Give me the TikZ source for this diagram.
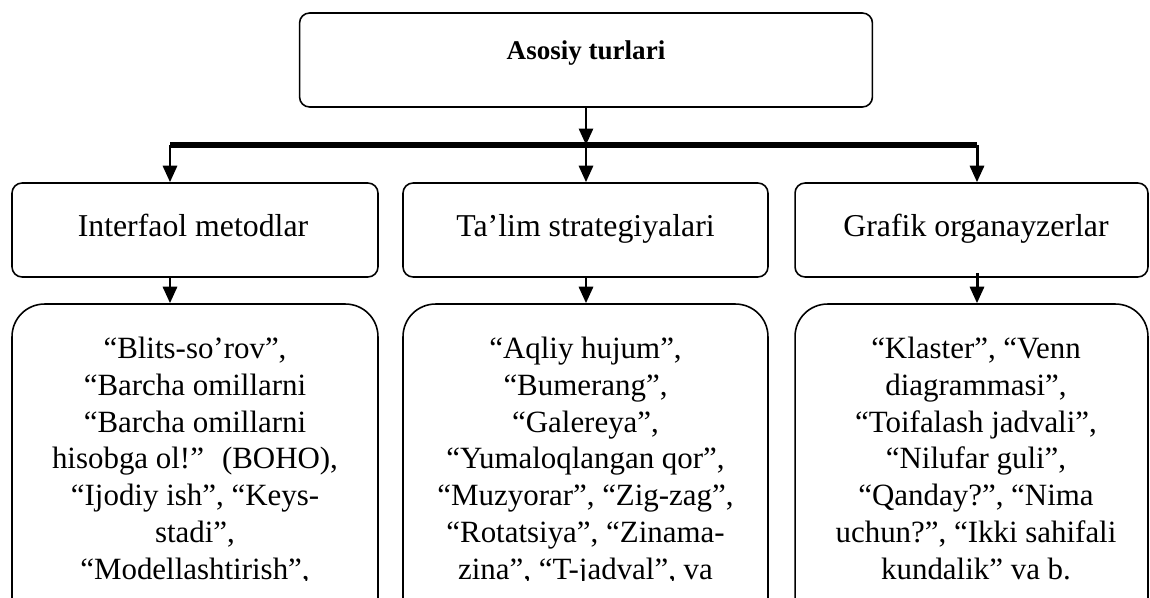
\documentclass[tikz,border=0pt]{standalone}
\usepackage{fontspec}
\setmainfont{Liberation Serif}
\usetikzlibrary{arrows.meta}

\tikzset{
    box/.style={draw, line width=0.9pt, rounded corners=0.2cm, inner sep=0pt, minimum height=1.88cm},
    listbox/.style={draw, line width=0.9pt, rounded corners=0.65cm, inner sep=0pt, minimum height=7.2cm},
    arr/.style={line width=1.7pt, -{Triangle[length=0.33cm,width=0.28cm]}},
    bar/.style={line width=3pt},
    head/.style={font=\fontsize{15.4}{18}\selectfont\bfseries, anchor=base, inner sep=0pt},
    kind/.style={font=\fontsize{18.1}{21}\selectfont, anchor=base, inner sep=0pt},
    txt/.style={font=\fontsize{17.6}{20.9}\selectfont, align=center, inner sep=0pt},
}

\begin{document}
\begin{tikzpicture}[x=0.02cm, y=-0.02cm]
    \useasboundingbox (0,0) rectangle (1150,598);
    \clip (0,0) rectangle (1150,598);

    \coordinate (barL) at (170,145);
    \coordinate (barM) at (586,145);
    \coordinate (barR) at (977,145);

    \node[box, minimum width=11.46cm] (top) at (586,60) {};
    \node[head] (toptxt) at (586,60) {Asosiy turlari};

    \node[box, minimum width=7.32cm] (im) at (195,230) {};
    \node[box, minimum width=7.30cm] (ts) at (585.5,230) {};
    \node[box, minimum width=7.06cm] (go) at (971.5,230) {};
    \node[kind] (imtxt) at (193,236) {Interfaol metodlar};
    \node[kind] (tstxt) at (585.5,236) {Ta’lim strategiyalari};
    \node[kind] (gotxt) at (976,236) {Grafik organayzerlar};

    \node[listbox, minimum width=7.32cm] (imlist) at (195,484) {};
    \node[listbox, minimum width=7.30cm] (tslist) at (585.5,484) {};
    \node[listbox, minimum width=7.06cm] (golist) at (971.5,484) {};

    \begin{scope}
        \clip (0,300) rectangle (1150,580);
        \node[txt, anchor=north] (imitems) at (195,337) {“Blits-so’rov”,\\
            “Barcha omillarni\\
            “Barcha omillarni\\
            hisobga ol!”~ (BOHO),\\
            “Ijodiy ish”, “Keys-\\
            stadi”,\\
            “Modellashtirish”,};
        \node[txt, anchor=north] (tsitems) at (585.5,337) {“Aqliy hujum”,\\
            “Bumerang”,\\
            “Galereya”,\\
            “Yumaloqlangan qor”,\\
            “Muzyorar”, “Zig-zag”,\\
            “Rotatsiya”, “Zinama-\\
            zina”, “T-jadval”, va};
        \node[txt, anchor=north] (goitems) at (976,337) {“Klaster”, “Venn\\
            diagrammasi”,\\
            “Toifalash jadvali”,\\
            “Nilufar guli”,\\
            “Qanday?”, “Nima\\
            uchun?”, “Ikki sahifali\\
            kundalik” va b.};
    \end{scope}

    \draw[arr] (top.south) -- (barM);
    \draw[bar] (barL) -- (barR);
    \draw[arr] (barL) -- (barL |- im.north);
    \draw[arr] (barM) -- (barM |- ts.north);
    \draw[arr] (barR) -- (barR |- go.north);

    \draw[arr] (barL |- im.south) -- (barL |- imlist.north);
    \draw[arr] (barM |- ts.south) -- (barM |- tslist.north);
    \draw[arr] ([yshift=0.1cm]barR |- go.south) -- (barR |- golist.north);
\end{tikzpicture}
\end{document}
